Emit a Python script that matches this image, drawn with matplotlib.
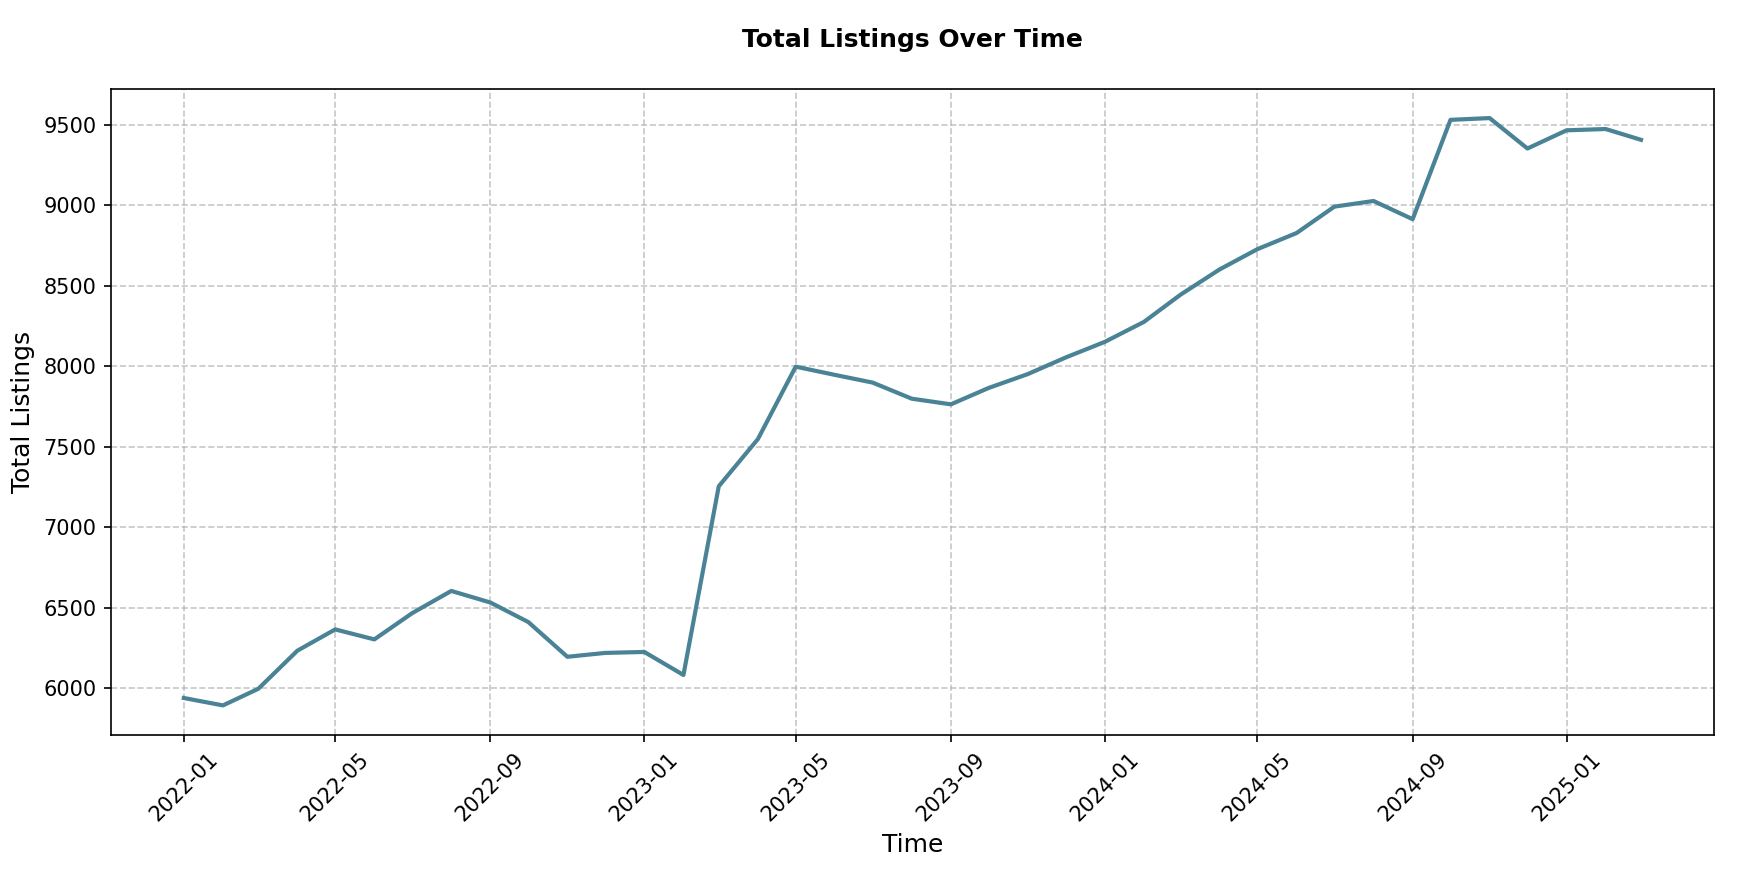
import matplotlib
matplotlib.use('Agg')
import matplotlib.pyplot as plt
import matplotlib.dates as mdates
import pandas as pd

# monthly totals, 2022-01 .. 2025-03
months = pd.date_range('2022-01-01', '2025-03-01', freq='MS')
total_listings = [
    5938, 5892, 5995, 6232, 6364, 6302, 6465, 6603, 6531, 6410, 6194, 6218,
    6224, 6081, 7253, 7546, 7996, 7945, 7897, 7797, 7762, 7864, 7950, 8053,
    8150, 8274, 8443, 8600, 8726, 8826, 8990, 9025, 8912, 9529, 9540, 9351,
    9464, 9472, 9405,
]
tick_months = pd.date_range('2022-01-01', '2025-01-01', freq='4MS')

fig = plt.figure(figsize=(1756 / 150, 874 / 150), dpi=150)
ax = fig.add_axes([0.0632, 0.1593, 0.9128, 0.7392])

ax.plot(months, total_listings, color='#4a8396', linewidth=2)
ax.set_xticks(tick_months)
ax.xaxis.set_major_formatter(mdates.DateFormatter('%Y-%m'))
plt.setp(ax.get_xticklabels(), rotation=45)

ax.set_title('Total Listings Over Time', fontsize=12, fontweight='bold', pad=20)
ax.set_xlabel('Time', fontsize=12)
ax.set_ylabel('Total Listings', fontsize=12)
ax.grid(True, linestyle='--', alpha=0.7)

fig.savefig('out.png', dpi=150)
plt.close(fig)
